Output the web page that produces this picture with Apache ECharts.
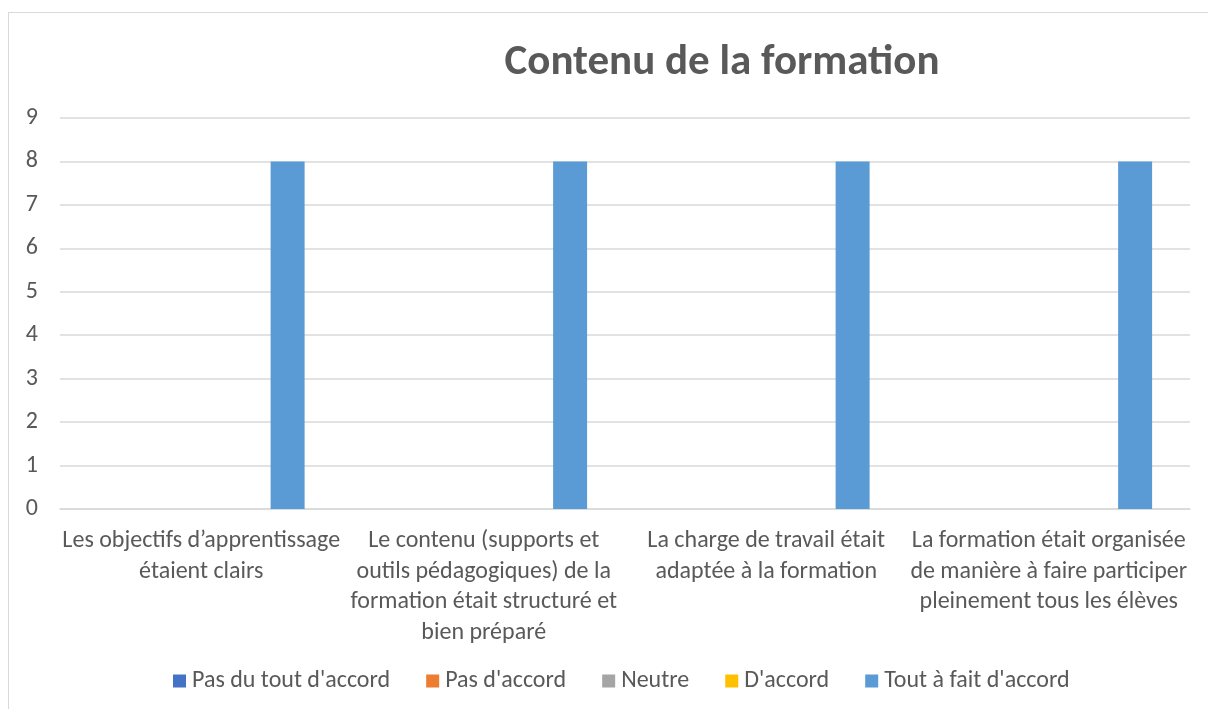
<!DOCTYPE html>
<html>
<head>
<meta charset="utf-8">
<script src="https://cdn.jsdelivr.net/npm/echarts@6/dist/echarts.min.js"></script>
<style>
  html, body { margin: 0; padding: 0; background: #fff; }
  #frame { position: absolute; left: 8px; top: 12px; width: 1210px; height: 710px; border: 1.5px solid #d9d9d9; box-sizing: border-box; }
  #chart { position: absolute; left: 0; top: 0; width: 1208px; height: 709px; }
</style>
</head>
<body>
<div id="frame"></div>
<div id="chart"></div>
<script>
// categories (line breaks as in the picture)
var categories = [
    "Les objectifs d\u2019apprentissage\n\u00e9taient clairs",
    "Le contenu (supports et\noutils p\u00e9dagogiques) de la\nformation \u00e9tait structur\u00e9 et\nbien pr\u00e9par\u00e9",
    "La charge de travail \u00e9tait\nadapt\u00e9e \u00e0 la formation",
    "La formation \u00e9tait organis\u00e9e\nde mani\u00e8re \u00e0 faire participer\npleinement tous les \u00e9l\u00e8ves"
];
var seriesNames = ["Pas du tout d'accord", "Pas d'accord", "Neutre", "D'accord", "Tout \u00e0 fait d'accord"];
var seriesColors = ['#4472c4', '#ed7d31', '#a5a5a5', '#ffc000', '#5b9bd5'];
var pasDuTout = [0, 0, 0, 0];
var pasDaccord = [0, 0, 0, 0];
var neutre = [0, 0, 0, 0];
var daccord = [0, 0, 0, 0];
var toutAFait = [8, 8, 8, 8];
var yTicks = [0, 1, 2, 3, 4, 5, 6, 7, 8, 9];

var values = [pasDuTout, pasDaccord, neutre, daccord, toutAFait];
var series = [];
for (var i = 0; i < values.length; i++) {
    series.push({
        name: seriesNames[i],
        type: 'bar',
        data: values[i],
        barWidth: 34,
        barGap: '27%',
        itemStyle: { color: seriesColors[i] }
    });
}

var font = "Carlito, 'Open Sans', 'Noto Sans', sans-serif";
var chart = echarts.init(document.getElementById('chart'));
chart.setOption({
    animation: false,
    title: {
        text: 'Contenu de la formation',
        left: 717, top: 37, textAlign: 'center',
        textStyle: { fontFamily: font, fontSize: 43, fontWeight: 'bold', color: '#595959' }
    },
    legend: {
        bottom: 11, left: 168,
        itemWidth: 13, itemHeight: 13, itemGap: 36,
        icon: 'rect',
        textStyle: { fontFamily: font, fontSize: 24, color: '#595959', padding: [0, 0, 0, 1] },
        data: seriesNames
    },
    grid: { left: 60, right: 18, top: 118, bottom: 200, containLabel: false },
    xAxis: {
        type: 'category',
        data: categories,
        axisLine: { lineStyle: { color: '#d9d9d9', width: 1.5 } },
        axisTick: { show: false },
        axisLabel: {
            interval: 0, margin: 17,
            fontFamily: font, fontSize: 24, color: '#595959', lineHeight: 30.5
        }
    },
    yAxis: {
        type: 'value',
        min: yTicks[0], max: yTicks[yTicks.length - 1], interval: 1,
        axisLine: { show: false },
        axisTick: { show: false },
        splitLine: { lineStyle: { color: '#d9d9d9', width: 1.5 } },
        axisLabel: { fontFamily: font, fontSize: 24, color: '#595959', margin: 22 }
    },
    series: series
});
</script>
</body>
</html>
